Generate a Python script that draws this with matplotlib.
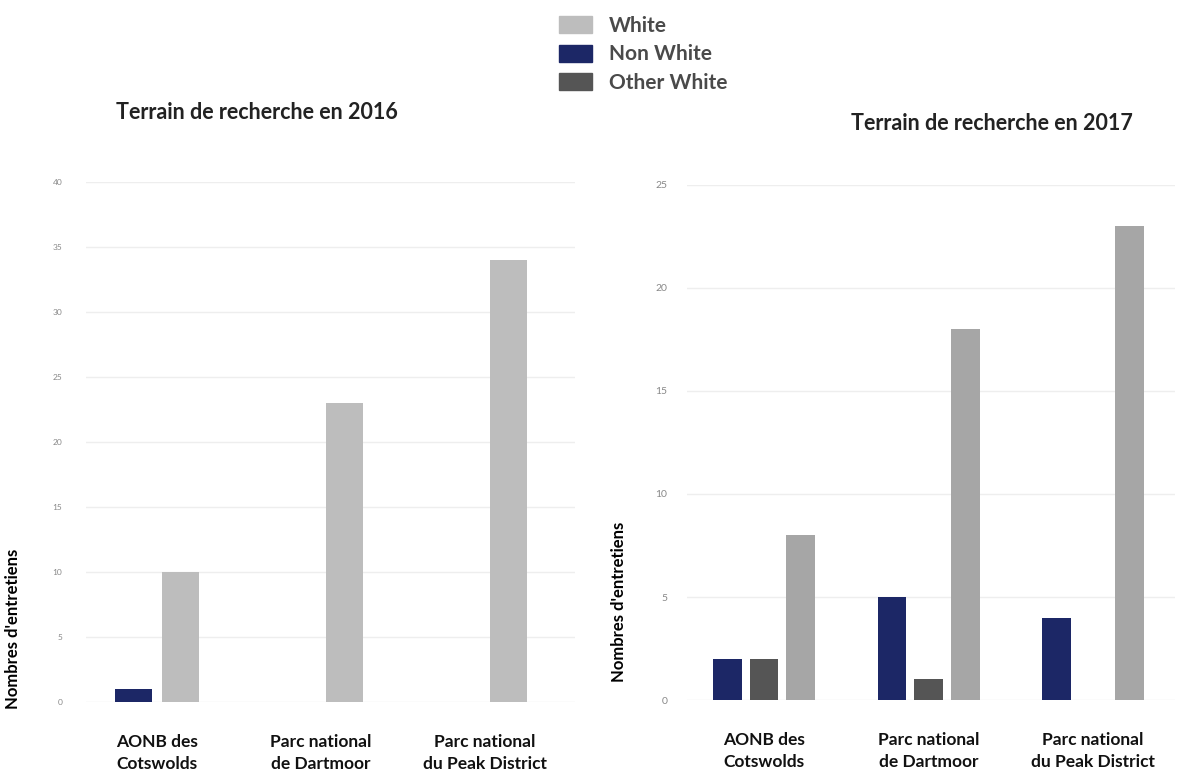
import matplotlib.pyplot as plt
import numpy as np
from matplotlib.patches import Patch

# data
categories = ["AONB des\nCotswolds", "Parc national\nde Dartmoor", "Parc national\ndu Peak District"]

white_2016 = [10, 23, 34]
non_white_2016 = [1, 0, 0]

white_2017 = [8, 18, 23]
non_white_2017 = [2, 5, 4]
other_white_2017 = [2, 1, 0]

ticks_2016 = [0, 5, 10, 15, 20, 25, 30, 35, 40]
ticks_2017 = [0, 5, 10, 15, 20, 25]

c_white_l = "#bdbdbd"
c_white_r = "#a6a6a6"
c_navy = "#1c2766"
c_other = "#555555"

plt.rcParams['font.family'] = ['Lato', 'DejaVu Sans']

fig = plt.figure(figsize=(11.82, 7.74), dpi=100)

x = np.arange(len(categories))

# left panel - 2016
ax1 = fig.add_axes([0.0728, 0.093, 0.4137, 0.6718])
ax1.bar(x - 0.143, non_white_2016, width=0.226, color=c_navy, zorder=2)
ax1.bar(x + 0.143, white_2016, width=0.226, color=c_white_l, zorder=2)
ax1.set_xlim(-0.433, 2.549)
ax1.set_ylim(0, 40)
ax1.set_yticks(ticks_2016)
ax1.tick_params(axis='y', labelsize=6, colors='#888888', length=0, pad=17)
ax1.set_ylabel("Nombres d'entretiens", fontsize=12, fontweight='bold')
ax1.yaxis.set_label_coords(-0.133, 0.14)
ax1.text(0.35, 1.133, "Terrain de recherche en 2016", transform=ax1.transAxes,
         ha='center', va='center', fontsize=15.5, fontweight='bold', color='#222222')

# right panel - 2017
ax2 = fig.add_axes([0.5812, 0.0956, 0.4129, 0.6654])
ax2.bar(x - 0.222, non_white_2017, width=0.176, color=c_navy, zorder=2)
ax2.bar(x, other_white_2017, width=0.176, color=c_other, zorder=2)
ax2.bar(x + 0.222, white_2017, width=0.176, color=c_white_r, zorder=2)
ax2.set_xlim(-0.468, 2.498)
ax2.set_ylim(0, 25)
ax2.set_yticks(ticks_2017)
ax2.tick_params(axis='y', labelsize=7.5, colors='#888888', length=0, pad=14)
ax2.set_ylabel("Nombres d'entretiens", fontsize=12, fontweight='bold')
ax2.yaxis.set_label_coords(-0.123, 0.19)
ax2.text(0.625, 1.12, "Terrain de recherche en 2017", transform=ax2.transAxes,
         ha='center', va='center', fontsize=15.5, fontweight='bold', color='#222222')

for ax in (ax1, ax2):
    ax.set_xticks(x)
    ax.set_xticklabels(categories, fontsize=12.5, fontweight='bold', linespacing=1.45)
    ax.tick_params(axis='x', length=0, pad=23, colors='#111111')
    ax.grid(axis='y', color='#eeeeee', linewidth=1, zorder=0)
    for s in ax.spines.values():
        s.set_visible(False)

# legend on top
handles = [Patch(color=c_white_l), Patch(color=c_navy), Patch(color=c_other)]
fig.legend(handles, ["White", "Non White", "Other White"], loc='upper left',
           bbox_to_anchor=(0.457, 1.004), frameon=False,
           prop={'size': 15, 'weight': 'bold'},
           handlelength=1.6, handleheight=0.88, labelspacing=0.42, handletextpad=0.8,
           labelcolor='#4a4a4a')

fig.savefig("out.png", dpi=100)
